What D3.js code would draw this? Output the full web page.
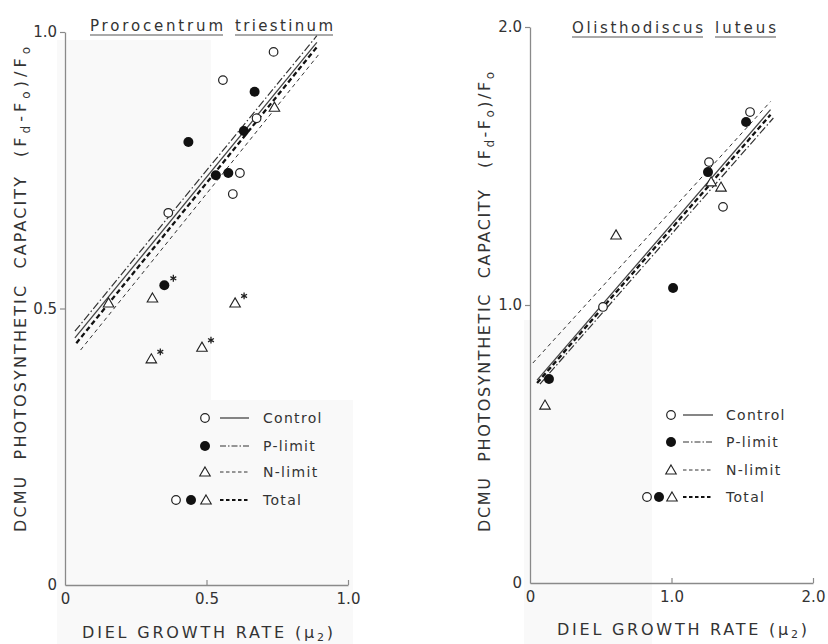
<!DOCTYPE html>
<html>
<head>
<meta charset="utf-8">
<script src="https://cdn.jsdelivr.net/npm/d3@7"></script>
<style>
    body { margin: 0; background: #fff; }
    svg text { font-family: "DejaVu Sans", sans-serif; fill: #333; }
</style>
</head>
<body>
<div id="chart"></div>
<script>

// series order used everywhere
const seriesNames = ["Control", "P-limit", "N-limit", "Total"];

// Prorocentrum triestinum: [growth rate, capacity, starred]
const proroControl = [[0.737, 0.964], [0.558, 0.913], [0.677, 0.844], [0.618, 0.745], [0.593, 0.707], [0.365, 0.673]];
const proroPlimit = [[0.670, 0.892], [0.632, 0.821], [0.436, 0.801], [0.577, 0.745], [0.533, 0.741], [0.351, 0.542, 1]];
const proroNlimit = [[0.740, 0.864], [0.309, 0.519], [0.154, 0.510], [0.601, 0.510, 1], [0.484, 0.430, 1], [0.305, 0.409, 1]];
// regression lines: [intercept, slope, x start, x end], same order as seriesNames
const proroFits = [[0.425, 0.625, 0.035, 0.89], [0.437, 0.625, 0.035, 0.89], [0.39, 0.635, 0.055, 0.90], [0.412, 0.63, 0.04, 0.89]];

// Olisthodiscus luteus
const olisControl = [[1.555, 1.694], [1.265, 1.514], [1.364, 1.353], [0.516, 0.993]];
const olisPlimit = [[1.527, 1.658], [1.258, 1.478], [1.011, 1.061], [0.134, 0.734]];
const olisNlimit = [[1.28, 1.443], [1.35, 1.424], [0.608, 1.252], [0.106, 0.640]];
const olisFits = [[0.70, 0.59, 0.05, 1.70], [0.675, 0.58, 0.07, 1.72], [0.78, 0.56, 0.02, 1.70], [0.69, 0.585, 0.05, 1.70]];

const proroXTicks = [0, 0.5, 1.0];
const proroYTicks = [0, 0.5, 1.0];
const olisXTicks = [0, 1.0, 2.0];
const olisYTicks = [0, 1.0, 2.0];

const lineStyles = [
    { dash: null, width: 1.3, color: "#444" },
    { dash: "8,2.5,1.5,2.5", width: 1.2, color: "#333" },
    { dash: "4,3.5", width: 1, color: "#333" },
    { dash: "5,3", width: 2.3, color: "#111" }
];

const svg = d3.select("#chart").append("svg")
    .attr("width", 828)
    .attr("height", 644);

// fit a text element to a given length with letter spacing
function fit(sel, width) {
    const node = sel.node();
    const len = node.getComputedTextLength();
    const n = node.getNumberOfChars();
    sel.attr("letter-spacing", (width - len) / Math.max(1, n - 1));
}

function marker(g, kind, cx, cy) {
    if (kind === 0) {
        g.append("circle").attr("cx", cx).attr("cy", cy).attr("r", 4.3)
            .attr("fill", "#fff").attr("stroke", "#222").attr("stroke-width", 1.2);
    } else if (kind === 1) {
        g.append("circle").attr("cx", cx).attr("cy", cy).attr("r", 5)
            .attr("fill", "#111");
    } else {
        g.append("path").attr("d", d3.symbol(d3.symbolTriangle, 48)())
            .attr("transform", `translate(${cx},${cy + 1})`)
            .attr("fill", "#fff").attr("stroke", "#222").attr("stroke-width", 1.1);
    }
}

function drawPanel(p) {
    const g = svg.append("g");

    // faint scan tint
    p.tint.forEach(t => {
        g.append("rect").attr("x", t[0]).attr("y", t[1]).attr("width", t[2]).attr("height", t[3])
            .attr("fill", "#f9f9f9");
    });

    const x = d3.scaleLinear().domain(p.xDomain).range(p.xRange);
    const y = d3.scaleLinear().domain(p.yDomain).range(p.yRange);
    const fmt = d => d === 0 ? "0" : d3.format(".1f")(d);

    const xAxis = g.append("g")
        .attr("transform", `translate(0,${y(0)})`)
        .call(d3.axisBottom(x).tickValues(p.xTicks).tickFormat(fmt)
            .tickSizeInner(-5).tickSizeOuter(0).tickPadding(8));
    const yAxis = g.append("g")
        .attr("transform", `translate(${x(0)},0)`)
        .call(d3.axisLeft(y).tickValues(p.yTicks).tickFormat(fmt)
            .tickSizeInner(5).tickSizeOuter(0).tickPadding(3));
    [xAxis, yAxis].forEach(a => {
        a.select(".domain").attr("stroke", "#8a8a8a").attr("stroke-width", 1.3);
        a.selectAll(".tick line").attr("stroke", "#8a8a8a").attr("stroke-width", 1.2);
        a.selectAll("text").attr("font-size", 15).attr("font-family", "DejaVu Sans").attr("fill", "#333");
    });
    xAxis.selectAll(".tick").filter(d => d === 0).select("line").remove();
    yAxis.selectAll(".tick").filter(d => d === 0).select("line").remove();

    // regression lines
    g.selectAll(".fit")
        .data(p.fits)
        .join("line")
        .attr("x1", d => x(d[2]))
        .attr("y1", d => y(d[0] + d[1] * d[2]))
        .attr("x2", d => x(d[3]))
        .attr("y2", d => y(d[0] + d[1] * d[3]))
        .attr("stroke", (d, i) => lineStyles[i].color)
        .attr("stroke-width", (d, i) => lineStyles[i].width)
        .attr("stroke-dasharray", (d, i) => lineStyles[i].dash);

    // points
    const pts = g.append("g");
    p.series.forEach((s, k) => {
        s.forEach(d => {
            marker(pts, k, x(d[0]), y(d[1]));
            if (d[2]) {
                pts.append("path").attr("d", d3.symbol(d3.symbolAsterisk, 32)())
                    .attr("transform", `translate(${x(d[0]) + 9},${y(d[1]) - 7})`)
                    .attr("stroke", "#222").attr("stroke-width", 1.3).attr("fill", "none");
            }
        });
    });

    // title, underlined words
    p.title.forEach((w, i) => {
        const t = g.append("text")
            .attr("x", p.titleX[i][0]).attr("y", p.titleY)
            .attr("font-size", 15).text(w);
        fit(t, p.titleX[i][1] - p.titleX[i][0]);
        g.append("line")
            .attr("x1", p.titleX[i][0]).attr("x2", p.titleX[i][1])
            .attr("y1", p.titleY + 4).attr("y2", p.titleY + 4)
            .attr("stroke", "#555").attr("stroke-width", 1.2);
    });

    // x label
    const xl = g.append("text").attr("x", p.xLabel[0]).attr("y", p.xLabel[2]).attr("font-size", 16);
    xl.append("tspan").text("DIEL GROWTH RATE (\u03bc");
    xl.append("tspan").attr("dy", 3).attr("font-size", 11).text("2");
    xl.append("tspan").attr("dy", -3).text(")");
    fit(xl, p.xLabel[1] - p.xLabel[0]);

    // y label, rotated
    const yl = g.append("g").attr("transform", `translate(${p.yLabel[0]},${p.yLabel[1]}) rotate(-90)`);
    const main = yl.append("text").attr("font-size", 16).attr("word-spacing", 8)
        .text("DCMU PHOTOSYNTHETIC CAPACITY");
    fit(main, p.yLabel[2]);
    const frac = yl.append("text").attr("x", p.yLabel[3]).attr("font-size", 16);
    frac.append("tspan").text("(F");
    frac.append("tspan").attr("dy", 4).attr("font-size", 12).text("d");
    frac.append("tspan").attr("dy", -4).text("-F");
    frac.append("tspan").attr("dy", 4).attr("font-size", 12).text("o");
    frac.append("tspan").attr("dy", -4).text(")/F");
    frac.append("tspan").attr("dy", 4).attr("font-size", 12).text("o");
    fit(frac, p.yLabel[4]);

    // legend
    const lg = g.append("g");
    seriesNames.forEach((name, i) => {
        const ry = p.legend.rows[i];
        if (i < 3) {
            marker(lg, i, p.legend.marker, ry);
        } else {
            p.legend.totalMarkers.forEach((mx, k) => marker(lg, k, mx, ry));
        }
        lg.append("line")
            .attr("x1", p.legend.line[0]).attr("x2", p.legend.line[1])
            .attr("y1", ry).attr("y2", ry)
            .attr("stroke", lineStyles[i].color)
            .attr("stroke-width", i === 3 ? 2 : lineStyles[i].width)
            .attr("stroke-dasharray", i === 1 ? "6,2,1.5,2" : i >= 2 ? "3.5,2.5" : null);
        lg.append("text")
            .attr("x", p.legend.text).attr("y", ry + 5)
            .attr("font-size", 14).attr("letter-spacing", 1.3)
            .attr("fill", "#555")
            .text(name);
    });
}

drawPanel({
    xDomain: [0, 1], xRange: [65, 348],
    yDomain: [0, 1], yRange: [585, 32],
    xTicks: proroXTicks, yTicks: proroYTicks,
    fits: proroFits,
    series: [proroControl, proroPlimit, proroNlimit],
    title: ["Prorocentrum", "triestinum"],
    titleX: [[90, 223], [235, 333]], titleY: 31,
    xLabel: [82, 333, 638],
    yLabel: [26, 532, 355, 375, 110],
    legend: { rows: [418, 446, 472, 500], marker: 205, totalMarkers: [176, 191, 206], line: [220, 249], text: 263 },
    tint: [[57, 40, 154, 604], [211, 400, 142, 244]]
});

drawPanel({
    xDomain: [0, 2], xRange: [530, 813],
    yDomain: [0, 2], yRange: [583, 27],
    xTicks: olisXTicks, yTicks: olisYTicks,
    fits: olisFits,
    series: [olisControl, olisPlimit, olisNlimit],
    title: ["Olisthodiscus", "luteus"],
    titleX: [[572, 703], [715, 776]], titleY: 33,
    xLabel: [557, 807, 635],
    yLabel: [490, 532, 342, 364, 96],
    legend: { rows: [415, 442, 470, 497], marker: 671, totalMarkers: [647, 659, 672], line: [683, 713], text: 726 },
    tint: [[524, 320, 128, 324]]
});

</script>
</body>
</html>
